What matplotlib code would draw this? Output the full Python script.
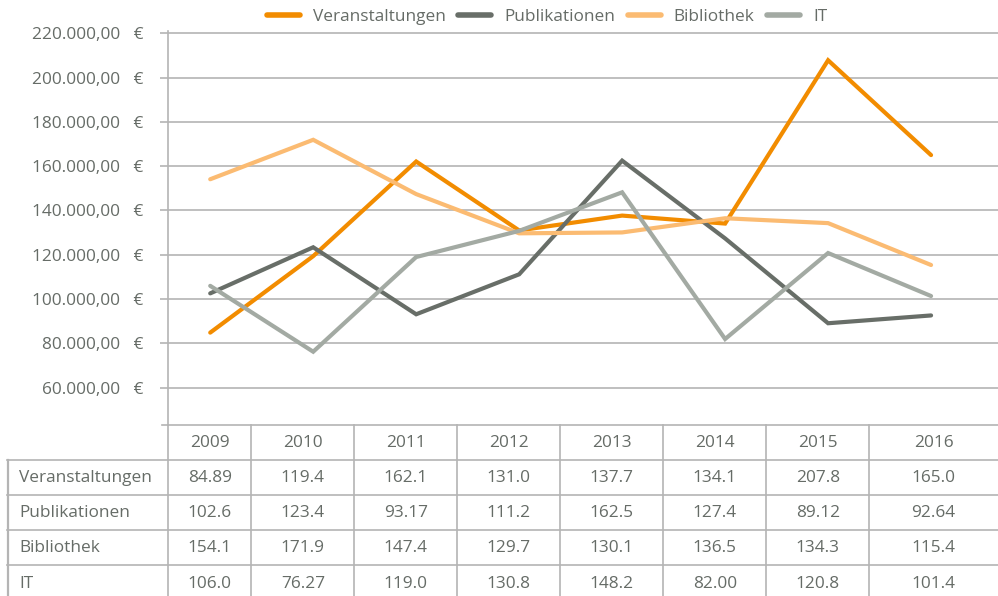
import matplotlib
matplotlib.use("Agg")
import matplotlib.pyplot as plt
from matplotlib.ticker import FuncFormatter, FixedLocator
from matplotlib.transforms import blended_transform_factory

years = ["2009", "2010", "2011", "2012", "2013", "2014", "2015", "2016"]
series_names = ["Veranstaltungen", "Publikationen", "Bibliothek", "IT"]
veranstaltungen = [84.89, 119.4, 162.1, 131.0, 137.7, 134.1, 207.8, 165.0]
publikationen = [102.6, 123.4, 93.17, 111.2, 162.5, 127.4, 89.12, 92.64]
bibliothek = [154.1, 171.9, 147.4, 129.7, 130.1, 136.5, 134.3, 115.4]
it = [106.0, 76.27, 119.0, 130.8, 148.2, 82.00, 120.8, 101.4]
y_ticks = [60000, 80000, 100000, 120000, 140000, 160000, 180000, 200000, 220000]

series = [veranstaltungen, publikationen, bibliothek, it]
colors = ["#F28C00", "#686E68", "#FBBB72", "#A3AAA3"]

FONT = "Open Sans"
TXT = "#666C67"
GRID = "#B4B4B4"
FS = 12.4

W, H = 998, 596
fig = plt.figure(figsize=(W / 100, H / 100), dpi=100)
plt.rcParams['font.family'] = [FONT, 'DejaVu Sans']

ax_left, ax_right, ax_top, ax_bot = 168, 998, 31, 425
ax = fig.add_axes([ax_left / W, 1 - ax_bot / H, (ax_right - ax_left) / W, (ax_bot - ax_top) / H])

xs = list(range(len(years)))
for name, vals, c in zip(series_names, series, colors):
    ax.plot(xs, [v * 1000 for v in vals], color=c, lw=3.0, label=name,
            solid_capstyle='round', solid_joinstyle='miter', zorder=3)

ax.set_xlim(-0.41, 7.65)
ax.set_ylim(43200, 221000)

ax.yaxis.set_major_locator(FixedLocator(y_ticks))
def fmt(v, pos):
    s = f"{v:,.2f}".replace(",", "X").replace(".", ",").replace("X", ".")
    return s + "   €"
ax.yaxis.set_major_formatter(FuncFormatter(fmt))
ax.tick_params(axis='y', length=6, width=1.2, color=GRID, pad=12, labelsize=FS, labelcolor=TXT)
ax.set_xticks([])
ax.grid(axis='y', color=GRID, lw=1.2, zorder=0)
for s in ["top", "right"]:
    ax.spines[s].set_visible(False)
ax.spines["left"].set_color(GRID)
ax.spines["left"].set_linewidth(1.2)
ax.spines["bottom"].set_visible(False)

# table
tr = blended_transform_factory(ax.transData, fig.transFigure)
trp = fig.transFigure
def fy(py):
    return 1 - py / H
def fx(px):
    return px / W

row_h = 35.2
header_top = 425
header_bot = 459.5
lw = 1.2
fig.add_artist(plt.Line2D([fx(162), fx(998)], [fy(header_top)] * 2, color=GRID, lw=lw, transform=trp))
for i in range(5):
    y = header_bot + i * row_h
    fig.add_artist(plt.Line2D([fx(7), fx(998)], [fy(y)] * 2, color=GRID, lw=lw, transform=trp))
bottom = header_bot + 4 * row_h
fig.add_artist(plt.Line2D([fx(168), fx(168)], [fy(header_top), fy(bottom)], color=GRID, lw=lw, transform=trp))
fig.add_artist(plt.Line2D([fx(7.5), fx(7.5)], [fy(header_bot), fy(bottom)], color=GRID, lw=1.6, transform=trp))
for i in range(len(years) - 1):
    fig.add_artist(plt.Line2D([i + 0.4, i + 0.4], [fy(header_top), fy(bottom)], color=GRID, lw=lw, transform=tr))

bounds = [-0.41] + [i + 0.4 for i in range(len(years) - 1)] + [7.65]
centers = [(bounds[i] + bounds[i + 1]) / 2 for i in range(len(years))]
for cx, yr in zip(centers, years):
    fig.text(cx, fy((header_top + header_bot) / 2 + 1), yr, transform=tr, ha='center', va='center',
             fontsize=FS, color=TXT)
for r, (name, vals) in enumerate(zip(series_names, series)):
    yc = header_bot + r * row_h + row_h / 2 + 1
    fig.text(fx(19), fy(yc), name, ha='left', va='center', fontsize=FS, color=TXT)
    for cx, v in zip(centers, vals):
        fig.text(cx, fy(yc), f"{v:#.4g}", transform=tr, ha='center', va='center',
                 fontsize=FS, color=TXT)

leg = fig.legend(loc='center', bbox_to_anchor=(547 / W, fy(17)), ncol=4, frameon=False,
                 fontsize=FS, handlelength=1.9, handletextpad=0.75, columnspacing=0.75,
                 labelcolor=TXT)
for l in leg.get_lines():
    l.set_linewidth(4)
    l.set_solid_capstyle('round')

fig.savefig("out.png", dpi=100)
